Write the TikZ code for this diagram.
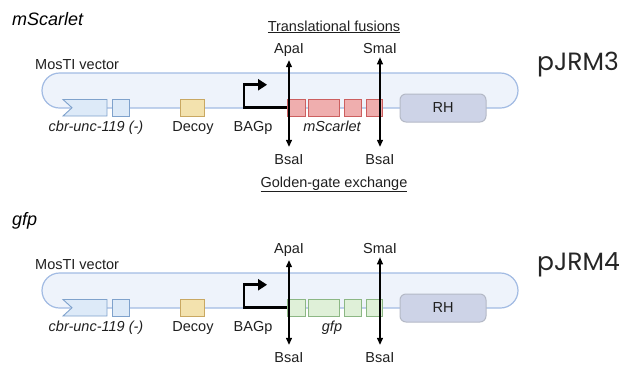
\documentclass[tikz,border=0pt]{standalone}
\usepackage{fontspec}
\setmainfont{Liberation Sans}
\newfontfamily\plasmidfont{Poppins}
\usetikzlibrary{arrows.meta,positioning}

\definecolor{vecfill}{HTML}{EEF3FB}
\definecolor{vecdraw}{HTML}{A2BBE3}
\definecolor{unkfill}{HTML}{DDEAF8}
\definecolor{unkdraw}{HTML}{7FA2CC}
\definecolor{decfill}{HTML}{F3E2AE}
\definecolor{decdraw}{HTML}{C9A862}
\definecolor{redfill}{HTML}{EFAEAE}
\definecolor{reddraw}{HTML}{CC5F5F}
\definecolor{grnfill}{HTML}{DFF0D8}
\definecolor{grndraw}{HTML}{8CB784}
\definecolor{rhfill}{HTML}{CDD3E7}
\definecolor{rhdraw}{HTML}{B4B9C6}

\tikzset{
    txt/.style={font=\fontsize{14.5}{16}\selectfont, text=black!88, inner sep=0pt},
    title/.style={font=\fontsize{18}{20}\selectfont\itshape, inner sep=0pt, anchor=base west},
    plasmid/.style={font=\fontsize{25}{27}\selectfont\plasmidfont, text=black!85, inner sep=0pt, anchor=base west},
    exon/.style={draw, line width=0.9pt, minimum height=17pt, inner sep=0pt},
    site/.style={line width=1.2pt, shorten <=4pt, shorten >=7pt,
        {Triangle[length=7pt,width=6pt]}-{Triangle[length=7pt,width=6pt]}},
    promoter/.style={line width=2.6pt, -{Triangle[length=9pt,width=11pt]}},
    vector/.style={draw=vecdraw, fill=vecfill, line width=1.2pt, rounded corners=17.5pt},
}

\begin{document}
\begin{tikzpicture}[x=1pt, y=-1pt]
    \useasboundingbox (0,0) rectangle (627,365);

    % mScarlet construct
    \node[title] (name1) at (12,25) {mScarlet};
    \node[plasmid] (pjrm3) at (537,70) {pJRM3};
    \node[txt, anchor=base west] (mos1) at (35,69) {MosTI vector};
    \draw[vector] (42,73) rectangle (518,108);

    \draw[draw=unkdraw, fill=unkfill, line width=0.9pt]
        (63,99.5) -- (107,99.5) -- (107,116) -- (63,116) -- (72,107.75) -- cycle;
    \node[exon, fill=unkfill, draw=unkdraw, minimum width=17pt] (cbrb1) at (120.5,107.75) {};
    \node[exon, fill=decfill, draw=decdraw, minimum width=24pt] (decoy1) at (192,107.75) {};

    \node[exon, fill=redfill, draw=reddraw, minimum width=18pt] (exa1) at (296.5,107.75) {};
    \node[exon, fill=redfill, draw=reddraw, minimum width=31pt] (exb1) at (324,107.75) {};
    \node[exon, fill=redfill, draw=reddraw, minimum width=17pt] (exc1) at (353,107.75) {};
    \node[exon, fill=redfill, draw=reddraw, minimum width=16pt] (exd1) at (374,107.75) {};
    \draw[promoter] (exa1.west) -- ++(-43,0) -- ++(0,-23) -- ++(23,0);

    \node[draw=rhdraw, fill=rhfill, line width=1pt, rounded corners=6pt,
        minimum width=86pt, minimum height=28pt, txt] (rh1) at (443,108) {RH};

    \node[txt, anchor=base] (cbr1) at (96,131) {\itshape cbr-unc-119 (-)};
    \node[txt, anchor=base] (decl1) at (193,131) {Decoy};
    \node[txt, anchor=base] (bag1) at (253,131) {BAGp};
    \node[txt, anchor=base] (gene1) at (332,131) {\itshape mScarlet};

    \node[txt, anchor=base] (fus) at (334,31) {\underline{Translational fusions}};
    \node[txt, anchor=base] (apa1) at (289,53) {ApaI};
    \node[txt, anchor=base] (sma1) at (380,53) {SmaI};
    \node[txt, anchor=base] (bsa1) at (289,164) {BsaI};
    \node[txt, anchor=base] (bsb1) at (380,164) {BsaI};
    \node[txt, anchor=base] (gg) at (334,187) {\underline{Golden-gate exchange}};
    \draw[site] (apa1) -- (bsa1);
    \draw[site] (sma1) -- (bsb1);

    % gfp construct
    \node[title] (name2) at (12,225) {gfp};
    \node[plasmid] (pjrm4) at (537,270) {pJRM4};
    \node[txt, anchor=base west] (mos2) at (35,269) {MosTI vector};
    \draw[vector] (42,273) rectangle (518,308);

    \draw[draw=unkdraw, fill=unkfill, line width=0.9pt]
        (63,299.5) -- (107,299.5) -- (107,316) -- (63,316) -- (72,307.75) -- cycle;
    \node[exon, fill=unkfill, draw=unkdraw, minimum width=17pt] (cbrb2) at (120.5,307.75) {};
    \node[exon, fill=decfill, draw=decdraw, minimum width=24pt] (decoy2) at (192,307.75) {};

    \node[exon, fill=grnfill, draw=grndraw, minimum width=18pt] (exa2) at (296.5,307.75) {};
    \node[exon, fill=grnfill, draw=grndraw, minimum width=31pt] (exb2) at (324,307.75) {};
    \node[exon, fill=grnfill, draw=grndraw, minimum width=17pt] (exc2) at (353,307.75) {};
    \node[exon, fill=grnfill, draw=grndraw, minimum width=16pt] (exd2) at (374,307.75) {};
    \draw[promoter] (exa2.west) -- ++(-43,0) -- ++(0,-23) -- ++(23,0);

    \node[draw=rhdraw, fill=rhfill, line width=1pt, rounded corners=6pt,
        minimum width=86pt, minimum height=28pt, txt] (rh2) at (443,308) {RH};

    \node[txt, anchor=base] (cbr2) at (96,331) {\itshape cbr-unc-119 (-)};
    \node[txt, anchor=base] (decl2) at (193,331) {Decoy};
    \node[txt, anchor=base] (bag2) at (253,331) {BAGp};
    \node[txt, anchor=base] (gene2) at (332,331) {\itshape gfp};

    \node[txt, anchor=base] (apa2) at (289,253) {ApaI};
    \node[txt, anchor=base] (sma2) at (380,253) {SmaI};
    \node[txt, anchor=base] (bsa2) at (289,362) {BsaI};
    \node[txt, anchor=base] (bsb2) at (380,362) {BsaI};
    \draw[site] (apa2) -- (bsa2);
    \draw[site] (sma2) -- (bsb2);
\end{tikzpicture}
\end{document}
